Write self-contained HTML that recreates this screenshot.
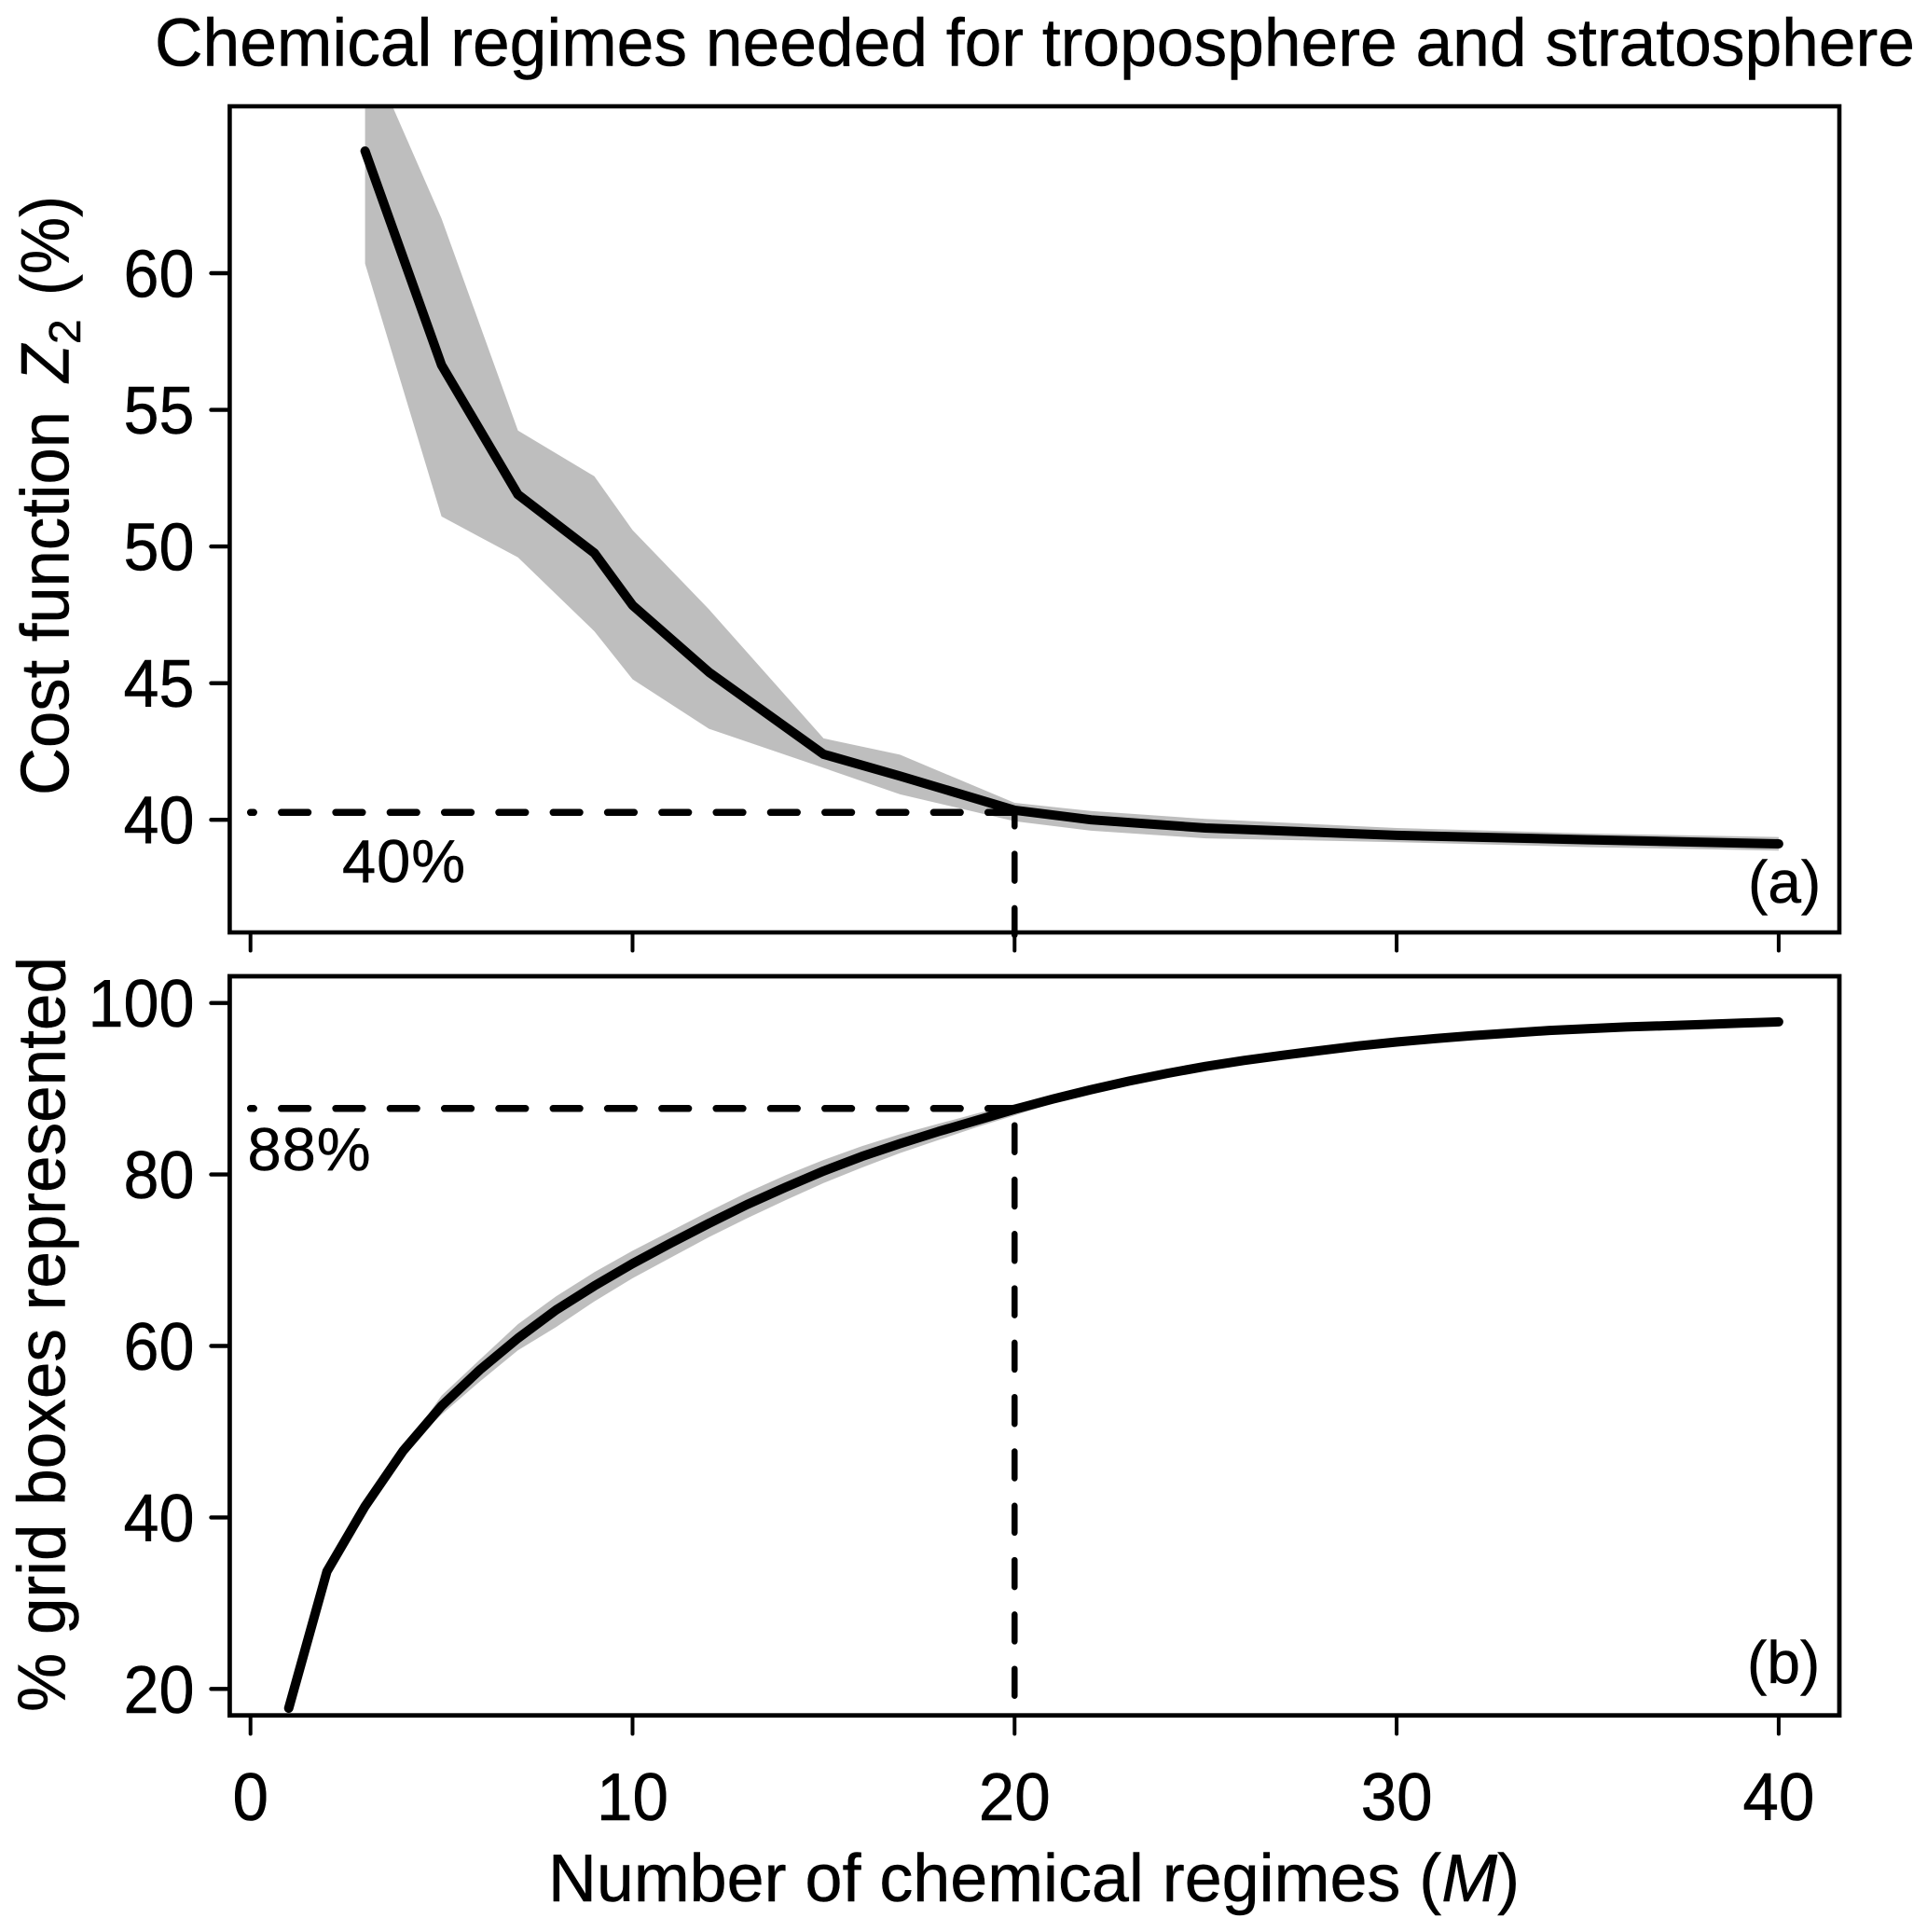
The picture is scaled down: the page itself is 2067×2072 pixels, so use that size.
<!DOCTYPE html>
<html lang="en">
<head>
<meta charset="utf-8">
<title>Chemical regimes needed for troposphere and stratosphere</title>
<style>
html,body{margin:0;padding:0;background:#fff;width:2067px;height:2072px;overflow:hidden}
svg{display:block;position:absolute;left:0;top:0}
text{font-family:"Liberation Sans",Arial,sans-serif;fill:#000;stroke:#000;stroke-width:0.5px}
</style>
</head>
<body>
<svg id="chart" xmlns="http://www.w3.org/2000/svg" width="2067" height="2072" viewBox="0 0 2067 2072">
  <defs>
    <clipPath id="clip-a"><rect x="246" y="114" width="1727" height="886"/></clipPath>
    <clipPath id="clip-b"><rect x="246" y="1047" width="1727" height="793"/></clipPath>
  </defs>
  <rect x="0" y="0" width="2067" height="2072" fill="#fff"/>
  <text x="166" y="70.5" font-size="72" textLength="1888" lengthAdjust="spacingAndGlyphs">Chemical regimes needed for troposphere and stratosphere</text>

  <g id="panel-a"></g>
  <g id="panel-b"></g>

  <rect x="246.4" y="114" width="1726.6" height="886" fill="none" stroke="#000" stroke-width="4.6"/>
  <rect x="246.4" y="1047" width="1726.6" height="792.7" fill="none" stroke="#000" stroke-width="4.8"/>

  <g id="axes"></g>

  <g>
    <text transform="translate(73.5,853) rotate(-90)" font-size="73" textLength="412" lengthAdjust="spacingAndGlyphs">Cost function</text>
    <text transform="translate(73.5,410) rotate(-90)" font-size="73" font-style="italic" textLength="40" lengthAdjust="spacingAndGlyphs">Z</text>
    <text transform="translate(86,369) rotate(-90)" font-size="48">2</text>
    <text transform="translate(73.5,317) rotate(-90)" font-size="73" textLength="107" lengthAdjust="spacingAndGlyphs">(%)</text>
  </g>
  <text transform="translate(69.5,1836) rotate(-90)" font-size="72" textLength="810" lengthAdjust="spacingAndGlyphs">% grid boxes represented</text>
  <text x="588" y="2039" font-size="72" textLength="1042" lengthAdjust="spacingAndGlyphs">Number of chemical regimes (<tspan font-style="italic">M</tspan>)</text>

  <text x="367" y="946" font-size="65" textLength="132" lengthAdjust="spacing">40%</text>
  <text x="265.5" y="1255" font-size="65" textLength="132" lengthAdjust="spacing">88%</text>
  <text x="1875" y="968" font-size="64">(a)</text>
  <text x="1874" y="1805" font-size="64">(b)</text>
</svg>

<script>
// ---- Panel (a): cost function Z2 ----
const regimesA = [3, 5, 7, 9, 10, 12, 15, 17, 20, 22, 25, 30, 35, 40];
const costMean = [64.47, 56.64, 51.9, 49.76, 47.85, 45.4, 42.4, 41.6, 40.35, 40.0, 39.7, 39.43, 39.27, 39.12];
const costUpper = [68.4, 62.0, 54.24, 52.57, 50.6, 47.7, 42.98, 42.38, 40.62, 40.32, 40.03, 39.7, 39.5, 39.37];
const costLower = [60.35, 51.1, 49.6, 46.9, 45.14, 43.33, 41.9, 40.93, 39.95, 39.6, 39.32, 39.18, 39.0, 38.87];

// ---- Panel (b): % grid boxes represented ----
const regimesB = [1,2,3,4,5,6,7,8,9,10,11,12,13,14,15,16,17,18,19,20,21,22,23,24,25,26,27,28,29,30,31,32,33,34,35,36,37,38,39,40];
const gridMean = [17.75,33.7,41.3,47.8,53.0,57.2,60.9,64.2,67.0,69.6,72.0,74.3,76.5,78.5,80.4,82.1,83.6,85.0,86.3,87.6,88.8,89.9,90.9,91.8,92.6,93.3,93.9,94.45,95.0,95.45,95.85,96.2,96.5,96.8,97.0,97.2,97.35,97.5,97.65,97.8];
const gridUpper = [17.75,33.7,41.4,47.9,54.2,58.4,62.55,65.8,68.6,71.1,73.4,75.7,77.9,79.9,81.7,83.3,84.7,85.9,87.1,88.2,89.2,90.2,91.1,91.9,92.7,93.4,94.0,94.5,95.05,95.5,95.9,96.25,96.55,96.85,97.05,97.25,97.4,97.55,97.7,97.85];
const gridLower = [17.75,33.7,41.2,47.7,52.0,55.85,59.5,62.2,65.2,67.9,70.3,72.7,74.9,77.0,79.0,80.8,82.5,84.0,85.5,86.9,88.3,89.5,90.6,91.6,92.5,93.2,93.8,94.4,94.95,95.4,95.8,96.15,96.45,96.75,96.95,97.15,97.3,97.45,97.6,97.75];

// ---- Reference markers ----
const refRegimes = [20];
const refCost = [40.27];
const refGrid = [87.7];

// ---- Ticks ----
const xTicks = [0, 10, 20, 30, 40];
const yTicksA = [40, 45, 50, 55, 60];
const yTicksB = [20, 40, 60, 80, 100];

// ---- Axis functions ----
function xScale(v) { return 268.7 + v * 40.98; }
function yScaleA(v) { return 293 + (60 - v) * 29.31; }
function yScaleB(v) { return 1075.7 + (100 - v) * 9.195; }

const NS = 'http://www.w3.org/2000/svg';
function mk(tag, parent) {
  const e = document.createElementNS(NS, tag);
  parent.appendChild(e);
  return e;
}
function pts(xs, ys, yf) {
  return xs.map(function (x, i) { return xScale(x).toFixed(1) + ',' + yf(ys[i]).toFixed(1); });
}

const panelA = document.getElementById('panel-a');
const panelB = document.getElementById('panel-b');
const axes = document.getElementById('axes');

function drawBand(parent, xs, up, lo, yf, clip) {
  const band = mk('polygon', parent);
  
  
  const top = pts(xs, up, yf);
  const bottom = pts(xs, lo, yf).reverse();
  band.setAttribute('points', top.concat(bottom).join(' '));
  band.setAttribute('fill', '#bebebe');
  band.setAttribute('clip-path', 'url(#' + clip + ')');
}

function drawLine(parent, xs, ys, yf) {
  const line = mk('polyline', parent);
  
  
  line.setAttribute('points', pts(xs, ys, yf).join(' '));
  line.setAttribute('fill', 'none');
  line.setAttribute('stroke', '#000');
  line.setAttribute('stroke-width', '10');
  line.setAttribute('stroke-linecap', 'round');
  line.setAttribute('stroke-linejoin', 'round');
}

function drawDashH(parent, xVal, yVal, yf) {
  const d = mk('line', parent);
  
  
  d.setAttribute('x1', xScale(0));
  d.setAttribute('x2', xScale(xVal));
  d.setAttribute('y1', yf(yVal));
  d.setAttribute('y2', yf(yVal));
  d.setAttribute('stroke', '#000');
  d.setAttribute('stroke-width', '7.5');
  d.setAttribute('stroke-linecap', 'round');
  d.setAttribute('stroke-dasharray', '28.7 29.6');
  d.setAttribute('stroke-dashoffset', '25.2');
}

function drawDashV(parent, xVal, yVal, yf, yEnd, offset) {
  const d = mk('line', parent);
  
  
  d.setAttribute('x1', xScale(xVal));
  d.setAttribute('x2', xScale(xVal));
  d.setAttribute('y1', yf(yVal));
  d.setAttribute('y2', yEnd);
  d.setAttribute('stroke', '#000');
  d.setAttribute('stroke-width', '6.5');
  d.setAttribute('stroke-linecap', 'round');
  d.setAttribute('stroke-dasharray', '29 29.3');
  d.setAttribute('stroke-dashoffset', offset);
}

// Panel a marks
drawBand(panelA, regimesA, costUpper, costLower, yScaleA, 'clip-a');
drawDashH(panelA, refRegimes[0], refCost[0], yScaleA);
drawDashV(panelA, refRegimes[0], refCost[0], yScaleA, 1020, 14);
drawLine(panelA, regimesA, costMean, yScaleA);

// Panel b marks
drawBand(panelB, regimesB, gridUpper, gridLower, yScaleB, 'clip-b');
drawDashH(panelB, refRegimes[0], refGrid[0], yScaleB);
drawDashV(panelB, refRegimes[0], refGrid[0], yScaleB, 1836, 40.4);
drawLine(panelB, regimesB, gridMean, yScaleB);

function drawXTicks(yBase, showLabels) {
  xTicks.forEach(function (t) {
    const tick = mk('line', axes);
    
    
    tick.setAttribute('x1', xScale(t));
    tick.setAttribute('x2', xScale(t));
    tick.setAttribute('y1', yBase);
    tick.setAttribute('y2', yBase + 19.5);
    tick.setAttribute('stroke', '#000');
    tick.setAttribute('stroke-width', '4');
    tick.setAttribute('stroke-linecap', 'round');
    if (showLabels) {
      const label = mk('text', axes);
      
      
      label.setAttribute('x', xScale(t));
      label.setAttribute('y', 1952);
      label.setAttribute('font-size', '72');
      label.setAttribute('text-anchor', 'middle');
      label.setAttribute('textLength', String(t).length * 38.5);
      label.setAttribute('lengthAdjust', 'spacingAndGlyphs');
      label.textContent = String(t);
    }
  });
}

function drawYTicks(ticks, yf) {
  ticks.forEach(function (t) {
    const tick = mk('line', axes);
    
    
    tick.setAttribute('x1', 226.5);
    tick.setAttribute('x2', 246);
    tick.setAttribute('y1', yf(t));
    tick.setAttribute('y2', yf(t));
    tick.setAttribute('stroke', '#000');
    tick.setAttribute('stroke-width', '4.4');
    tick.setAttribute('stroke-linecap', 'round');
    const label = mk('text', axes);
    
    
    label.setAttribute('x', 208.5);
    label.setAttribute('y', yf(t) + 25.5);
    label.setAttribute('font-size', '72');
    label.setAttribute('text-anchor', 'end');
    label.setAttribute('textLength', String(t).length * 38);
    label.setAttribute('lengthAdjust', 'spacingAndGlyphs');
    label.textContent = String(t);
  });
}

drawXTicks(1000, false);
drawXTicks(1840, true);
drawYTicks(yTicksA, yScaleA);
drawYTicks(yTicksB, yScaleB);
</script>
</body>
</html>
